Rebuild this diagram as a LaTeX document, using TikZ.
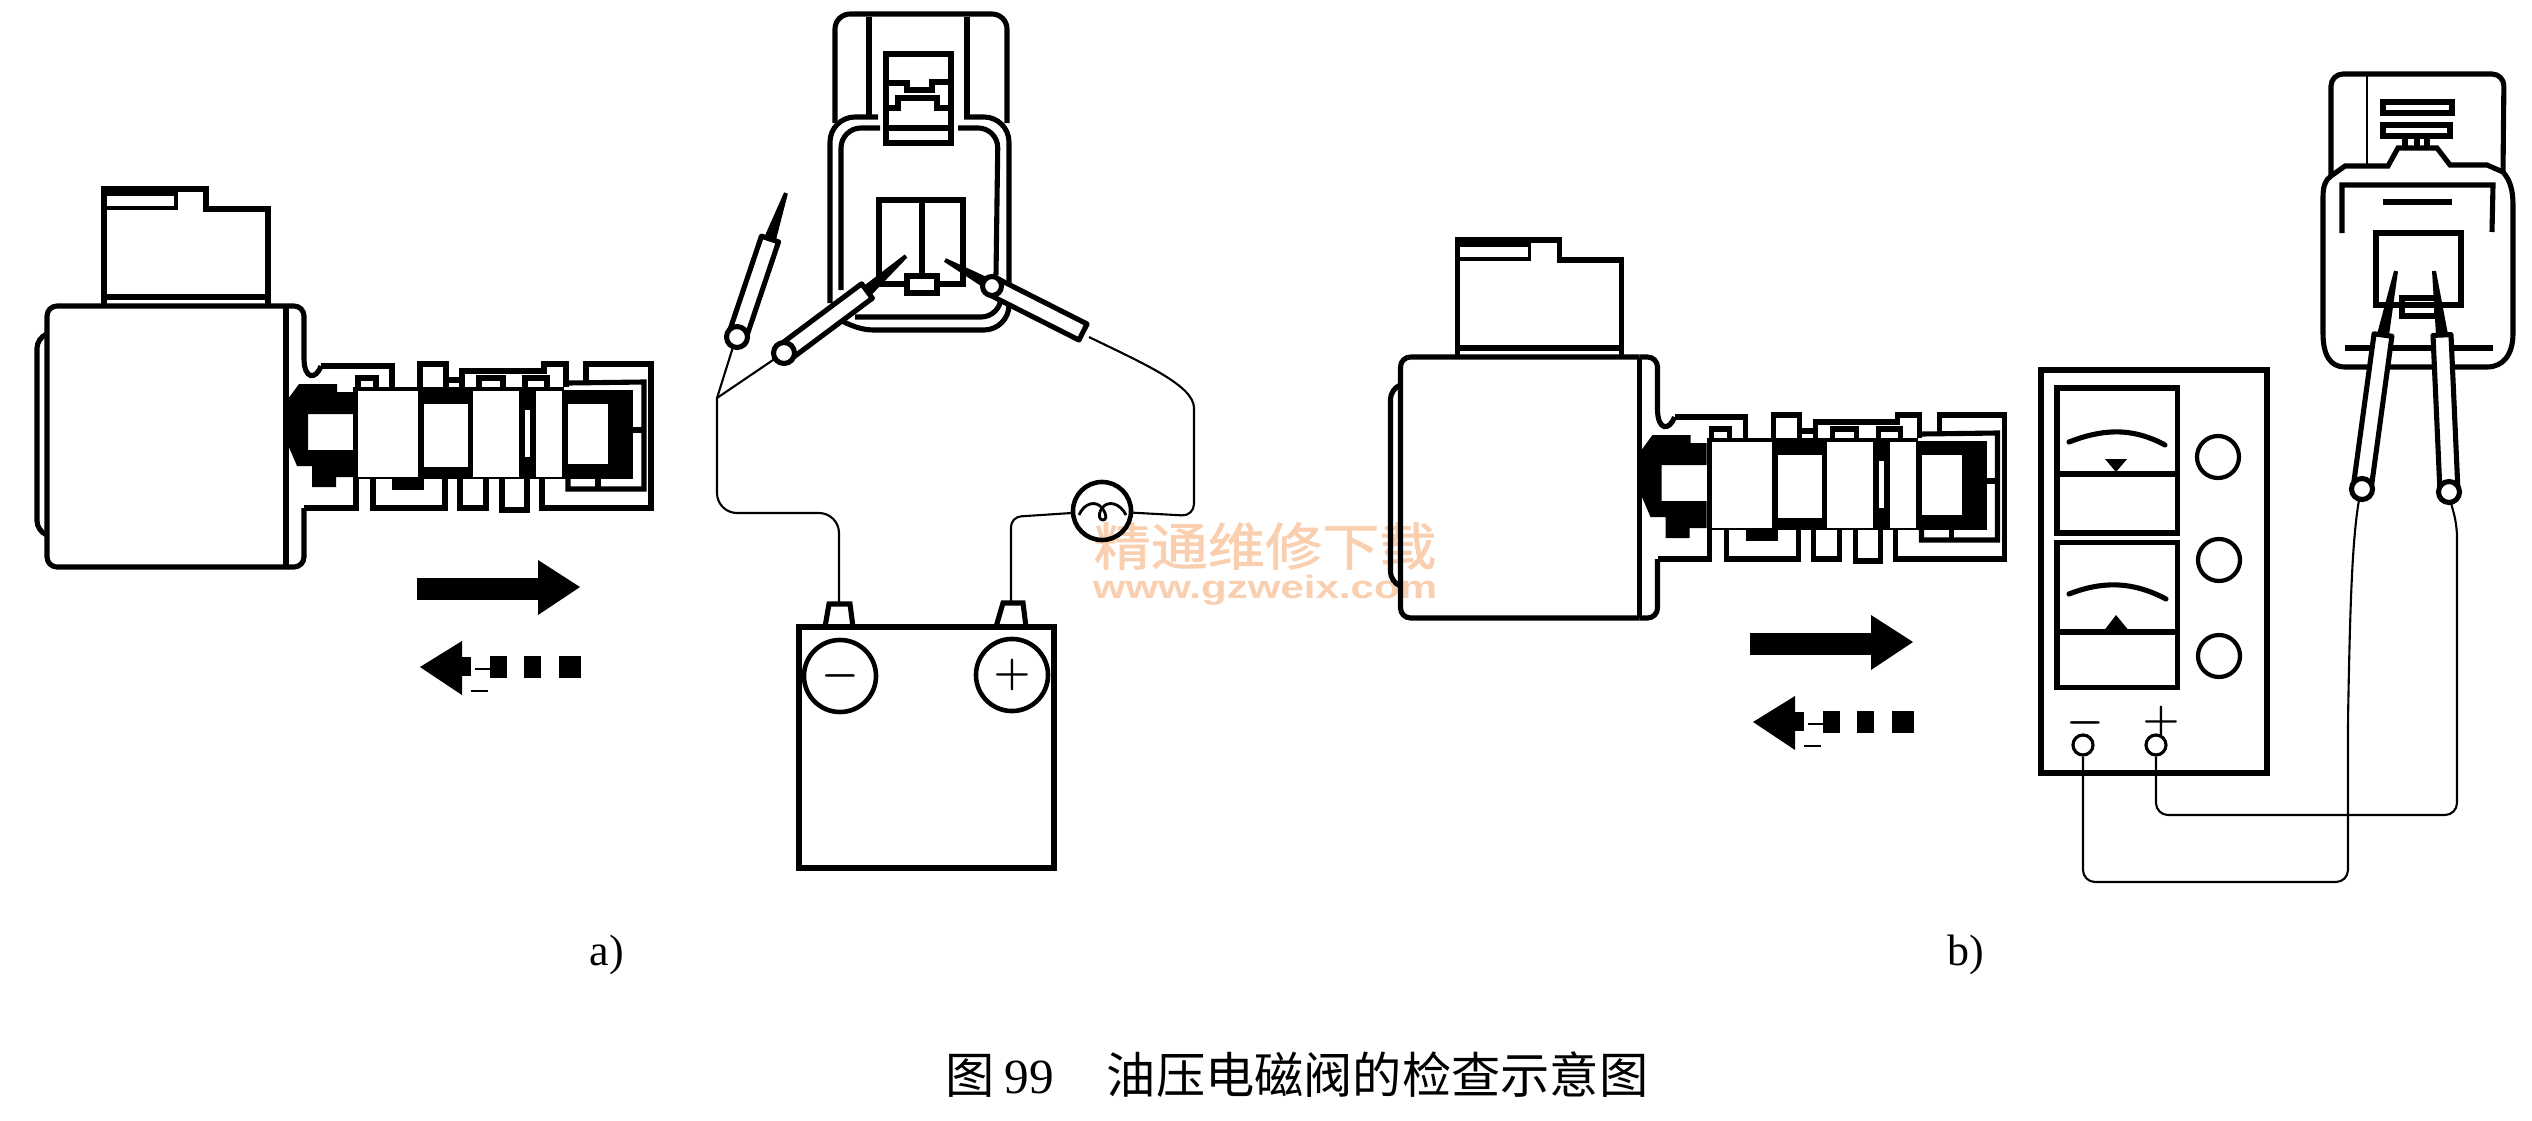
\documentclass[tikz,border=0pt]{standalone}
\usepackage{fontspec}
\setmainfont{Liberation Serif}
\newfontfamily\cjk{Noto Sans CJK SC}
\newfontfamily\markcjk[FakeStretch=1.12,FakeBold=1.5]{Noto Sans CJK SC}
\newfontfamily\marklatin[FakeStretch=1.3]{Liberation Sans}
\usetikzlibrary{calc}
\definecolor{markorange}{HTML}{F9CFAF}
\newcommand{\probetube}[3]{% far end, shoulder, tip
    \fill ($(#2)!.06cm!90:(#3)$) -- ($(#3)!.02cm!-90:(#2)$) -- ($(#3)!.02cm!90:(#2)$) -- ($(#2)!.06cm!-90:(#3)$) -- cycle;
    \draw[heavy, fill=white, line join=round] ($(#1)!.09cm!90:(#2)$) -- ($(#2)!.09cm!-90:(#1)$) -- ($(#2)!.09cm!90:(#1)$) -- ($(#1)!.09cm!-90:(#2)$) -- cycle;
}
\newcommand{\probe}[3]{%
    \probetube{#1}{#2}{#3}
    \draw[heavy, fill=white] (#1) circle [radius=10.5];
}
\tikzset{
    heavy/.style={line width=1.45pt},
    wire/.style={line width=.6pt},
    facebox/.style={draw, heavy, inner sep=0pt, minimum width=1.2cm, minimum height=1.45cm},
    knob/.style={draw, circle, line width=1.2pt, inner sep=0pt, minimum size=.42cm},
    jack/.style={draw, circle, line width=.9pt, inner sep=0pt, minimum size=.2cm},
    poleface/.style={draw, circle, line width=1.3pt, inner sep=0pt, minimum size=.72cm, font=\fontsize{12}{12}\selectfont\boldmath},
    % the solenoid with its spool, at the place of figure a)
    valve/.pic={
        \draw[heavy] (104,306) -- (104,189) -- (206,189) -- (206,209) -- (268,209) -- (268,306);
        \draw[heavy] (104,297) -- (268,297);
        \draw[line width=1pt] (104,194) -- (176,194) -- (176,208) -- (104,208);
        \draw[heavy, rounded corners=.1cm] (286,306) -- (47,306) -- (47,567) -- (286,567);
        \draw[heavy] (286,306) -- (286,567);
        \draw[heavy, rounded corners=.1cm] (286,306) -- (304,306) -- (304,358);
        \draw[heavy] (304,358) .. controls (304,380) and (316,380) .. (321,366);
        \draw[heavy, rounded corners=.1cm] (286,567) -- (304,567) -- (304,508);
        \draw[heavy] (304,508) -- (356,508) -- (356,479);
        \draw[heavy, rounded corners=.1cm] (47,334) -- (37,338) -- (37,531) -- (47,535);
        \fill (288,399) -- (299,384) -- (337,384) -- (337,392) -- (353,392) -- (353,414) -- (308,414) -- (308,450) -- (353,450)
            -- (353,477) -- (336,477) -- (336,487) -- (312,487) -- (312,466) -- (297,466) -- (288,445) -- cycle;
        \fill (353,387) rectangle (564,479);
        \fill (564,390) rectangle (633,479);
        \fill (392,479) rectangle (424,490);
        \fill[white] (358,391) rectangle (418,477);
        \fill[white] (424,404) rectangle (468,467);
        \fill[white] (473,391) rectangle (519,477);
        \fill[white] (525,410) rectangle (530,457);
        \fill[white] (536,391) rectangle (562,477);
        \fill[white] (568,404) rectangle (608,464);
        \draw[heavy] (321,366) -- (392,366) -- (392,387);
        \draw[heavy] (358,387) -- (358,378) -- (376,378) -- (376,387);
        \draw[heavy] (420,387) -- (420,364) -- (446,364) -- (446,387);
        \draw[heavy] (446,380) -- (462,380);
        \draw[heavy] (462,387) -- (462,371) -- (544,371) -- (544,364) -- (566,364) -- (566,387);
        \draw[heavy] (479,387) -- (479,378) -- (503,378) -- (503,387);
        \draw[heavy] (525,387) -- (525,378) -- (547,378) -- (547,387);
        \draw[heavy] (586,383) -- (586,364) -- (651,364) -- (651,508) -- (542,508) -- (542,479);
        \draw[heavy] (568,383) -- (644,382) -- (644,489) -- (568,489) -- (568,479);
        \draw[heavy] (598,479) -- (598,489);
        \draw[heavy] (633,430) -- (644,430);
        \draw[heavy] (373,479) -- (373,508) -- (445,508) -- (445,479);
        \draw[heavy] (460,479) -- (460,508) -- (486,508) -- (486,479);
        \draw[heavy] (502,479) -- (502,510) -- (527,510) -- (527,479);
    },
    motion/.pic={
        \fill (417,578) rectangle (538,600);
        \fill (538,560) -- (580,587) -- (538,615) -- cycle;
        \fill (420,667) -- (462,641) -- (462,695) -- cycle;
        \fill (462,657) rectangle (471,676);
        \fill (490,656) rectangle (507,678);
        \fill (524,656) rectangle (541,678);
        \fill (559,656) rectangle (581,678);
        \draw[wire] (475,669) -- (490,669);
        \draw[wire] (471,691) -- (488,691);
    },
}
\begin{document}
\begin{tikzpicture}[x=0.01cm, y=-0.01cm]
    \useasboundingbox (0,0) rectangle (2532,1121);
    % watermark lies under the drawing
    \node[text=markorange, inner sep=0pt, font=\markcjk\fontsize{14.5}{14.5}\selectfont] (markzh) at (1265,546) {精通维修下载};
    \node[text=markorange, inner sep=0pt, font=\marklatin\bfseries\fontsize{9.2}{9.2}\selectfont] (markurl) at (1265,590) {www.gzweix.com};

    \pic at (0,0) {valve};
    \pic at (1353.5,51) {valve};
    \pic at (0,0) {motion};
    \pic at (1333,55) {motion};

    % connector of a)
    \draw[heavy, rounded corners=.15cm] (835,123) -- (835,14) -- (1007,14) -- (1007,123);
    \draw[heavy] (869,17) -- (869,115);
    \draw[heavy] (967,17) -- (967,117);
    \draw[heavy] (886,54) rectangle (951,143);
    \draw[heavy] (886,128) -- (951,128);
    \draw[heavy] (886,83) -- (907,83) -- (907,90) -- (932,90) -- (932,82) -- (951,82);
    \draw[heavy] (889,108) -- (898,108) -- (898,98) -- (937,98) -- (937,108) -- (950,108);
    \draw[heavy, rounded corners=.25cm] (964,117) -- (1009,117) -- (1009,330) -- (848,330) -- (840,322);
    \draw[heavy, rounded corners=.25cm] (878,117) -- (830,117) -- (830,303);
    \draw[heavy, rounded corners=.2cm] (880,128) -- (841,128) -- (841,290);
    \draw[heavy, rounded corners=.2cm] (958,128) -- (998,128) -- (996,275);
    \draw[heavy, rounded corners=.2cm] (855,317) -- (1001,317) -- (1001,300);
    \draw[heavy] (907,284) -- (879,284) -- (879,200) -- (963,200) -- (963,284) -- (937,284);
    \draw[heavy] (922,200) -- (922,275);
    \draw[heavy] (907,276) rectangle (937,293);
    \probe{737,337}{770,239}{786,193}
    \probe{784,353}{867,291}{906,256}
    \probetube{1083,332}{992,286}{945,260}
    \draw[heavy, fill=white] (992,286) circle [radius=9.5];

    % battery and lamp
    \node[draw, line width=1.6pt, inner sep=0pt, minimum width=2.55cm, minimum height=2.41cm] (battery) at (926.5,747.5) {};
    \node[poleface] (poleminus) at (840,676) {$-$};
    \node[poleface] (poleplus) at (1012,675) {$+$};
    \draw[heavy] (825,627) -- (829,604) -- (850,604) -- (853,627);
    \draw[heavy] (996,627) -- (1003,603) -- (1023,603) -- (1026,627);
    \node[draw, circle, line width=1.3pt, inner sep=0pt, minimum size=.58cm] (lamp) at (1102,511) {};
    \draw[wire, line width=.8pt] (1079,515) .. controls (1084,503) and (1096,500) .. (1102,508) .. controls (1097,516) and (1100,520) .. (1103,520) .. controls (1106,520) and (1108,516) .. (1102,508) .. controls (1108,500) and (1120,503) .. (1126,515);

    \coordinate (tipa1) at (733,347);
    \coordinate (tipa2) at (776,358);
    \coordinate (tipa3) at (1089,337);
    \coordinate (splice) at (717,398);
    \coordinate (postminus) at (839,604);
    \coordinate (postplus) at (1011,603);
    \draw[wire] (tipa1) -- (splice);
    \draw[wire] (tipa2) -- (splice);
    \draw[wire, rounded corners=.2cm] (splice) -- (717,513) -- (839,513) -- (postminus);
    \draw[wire, rounded corners=.12cm] (tipa3) .. controls (1140,362) and (1194,385) .. (1194,420) -- (1194,516) -- (lamp);
    \draw[wire, rounded corners=.1cm] (postplus) -- (1011,517) -- (lamp);

    % connector of b)
    \draw[heavy, rounded corners=.12cm] (2331,176) -- (2331,74) -- (2504,74) -- (2503,172);
    \draw[line width=.7pt] (2367,75) -- (2367,165);
    \draw[heavy] (2383,102) rectangle (2452,113);
    \draw[heavy] (2383,125) rectangle (2450,136);
    \draw[heavy] (2405,137) -- (2405,148);
    \draw[heavy] (2417,137) -- (2417,148);
    \draw[heavy] (2427,137) -- (2427,148);
    \draw[heavy] (2331,176) -- (2345,166) -- (2388,166) -- (2398,148) -- (2437,148) -- (2450,165) -- (2487,165) -- (2503,172)
        .. controls (2510,180) and (2513,190) .. (2513,205) -- (2513,333) .. controls (2513,355) and (2503,367) .. (2487,367)
        -- (2345,367) .. controls (2330,367) and (2323,355) .. (2323,333) -- (2323,197) .. controls (2323,187) and (2325,180) .. (2331,176);
    \draw[heavy] (2342,233) -- (2342,185) -- (2493,185) -- (2492,232);
    \draw[heavy] (2383,202) -- (2452,202);
    \draw[heavy] (2376,233) rectangle (2461,305);
    \draw[heavy] (2402,298) rectangle (2437,316);
    \draw[heavy] (2345,348) -- (2493,348);
    \probe{2362,489}{2383,335}{2396,271}
    \probe{2449,492}{2442,335}{2434,271}

    % meter
    \node[draw, line width=1.6pt, inner sep=0pt, minimum width=2.26cm, minimum height=4.03cm] (meter) at (2154,571.5) {};
    \node[facebox] (faceup) at (2117,460.5) {};
    \node[facebox] (facedown) at (2117,615) {};
    \draw[heavy] (faceup.west |- 0,474) -- (faceup.east |- 0,474);
    \draw[heavy] (facedown.west |- 0,632) -- (facedown.east |- 0,632);
    \draw[heavy, line cap=round] (2069,442) .. controls (2100,430) and (2130,426) .. (2165,445);
    \draw[heavy, line cap=round] (2069,594) .. controls (2100,582) and (2130,580) .. (2166,599);
    \fill (2105,459) -- (2127,459) -- (2116,472) -- cycle;
    \fill (2103,632) -- (2130,632) -- (2116,615) -- cycle;
    \node[knob] (knobtop) at (2218,457) {};
    \node[knob] (knobmid) at (2219,560) {};
    \node[knob] (knoblow) at (2219,656) {};
    \node[jack] (jackminus) at (2083,745) {};
    \node[jack] (jackplus) at (2156,745) {};
    \node[inner sep=0pt, font=\fontsize{12}{12}\selectfont\boldmath] (signminus) at (2085,723) {$-$};
    \node[inner sep=0pt, font=\fontsize{12}{12}\selectfont\boldmath] (signplus) at (2161,722) {$+$};

    \coordinate (tipb1) at (2359,500);
    \coordinate (tipb2) at (2451,503);
    \draw[wire, rounded corners=.12cm] (jackminus) -- (2083,882) -- (2348,882) -- (2348,720) .. controls (2350,610) and (2352,540) .. (tipb1);
    \draw[wire, rounded corners=.12cm] (jackplus) -- (2156,815) -- (2457,815) -- (2457,525) -- (tipb2);

    % labels
    \node[inner sep=0pt, font=\fontsize{12.5}{12.5}\selectfont] (labela) at (607,955) {a)};
    \node[inner sep=0pt, font=\fontsize{12.5}{12.5}\selectfont] (labelb) at (1966,955) {b)};
    \node[inner sep=0pt, anchor=west, font=\fontsize{14}{14}\selectfont] (caption) at (945,1075)
        {{\cjk 图}\hspace{2.8pt}99\hspace{15pt}{\cjk 油压电磁阀的检查示意图}};
\end{tikzpicture}
\end{document}
